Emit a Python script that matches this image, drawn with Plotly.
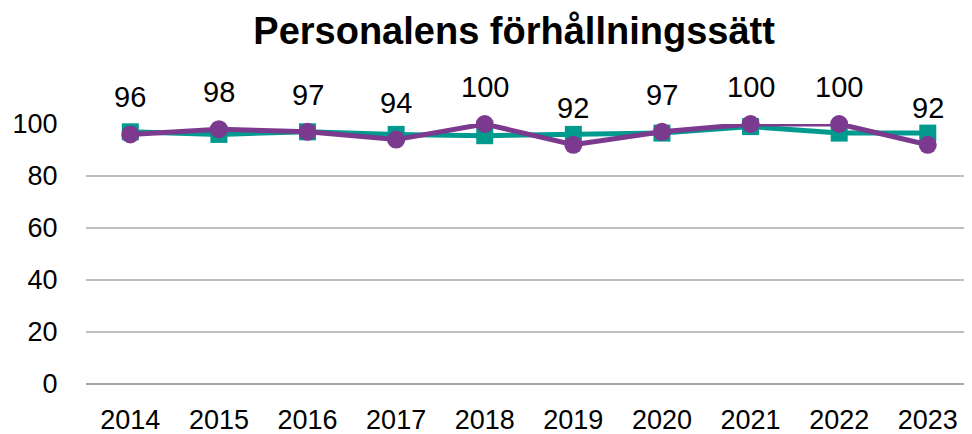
import plotly.graph_objects as go

years = [2014, 2015, 2016, 2017, 2018, 2019, 2020, 2021, 2022, 2023]
year_labels = ["2014", "2015", "2016", "2017", "2018", "2019", "2020", "2021", "2022", "2023"]
teal_values = [97, 96, 97, 96, 95.5, 96, 96.5, 99, 96.5, 96.5]
purple_values = [96, 98, 97, 94, 100, 92, 97, 100, 100, 92]
purple_labels = ["96", "98", "97", "94", "100", "92", "97", "100", "100", "92"]
y_ticks = [0, 20, 40, 60, 80, 100]

TEAL = "#009A8E"
PURPLE = "#7B3A8E"
FONT = "Liberation Sans, Arial, sans-serif"

fig = go.Figure()
fig.add_trace(go.Scatter(
    x=years, y=teal_values, mode="lines+markers",
    line=dict(color=TEAL, width=5),
    marker=dict(symbol="square", size=17, color=TEAL),
    cliponaxis=False, showlegend=False,
))
fig.add_trace(go.Scatter(
    x=years, y=purple_values, mode="lines+markers",
    line=dict(color=PURPLE, width=5),
    marker=dict(symbol="circle", size=18, color=PURPLE),
    cliponaxis=False, showlegend=False,
))
for yr, v, lab in zip(years, purple_values, purple_labels):
    fig.add_annotation(x=yr, y=v, xref="x", yref="y", text=lab, showarrow=False, yshift=37,
                       font=dict(family=FONT, size=29, color="#000000"))

# page body has an 8px margin; figure sized to fill the 972x434 window
fig.update_layout(
    width=964, height=426,
    margin=dict(l=78, r=7, t=116, b=50, autoexpand=False),
    paper_bgcolor="white", plot_bgcolor="white",
    title=dict(text="<b>Personalens förhållningssätt</b>", x=0.525, xanchor="center",
               y=0.947, yanchor="middle",
               font=dict(family=FONT, size=38, color="#000000")),
    font=dict(family=FONT, color="#000000"),
)
fig.update_xaxes(range=[2013.5, 2023.42], tickmode="array", tickvals=years, ticktext=year_labels,
                 showgrid=False, showline=False, zeroline=False, automargin=False,
                 ticks="outside", ticklen=12, tickcolor="rgba(0,0,0,0)",
                 tickfont=dict(size=27, family=FONT, color="#000000"))
fig.update_yaxes(range=[0, 100], tickmode="array", tickvals=y_ticks, showgrid=True,
                 gridcolor="#BFBFBF", gridwidth=1.5, automargin=False,
                 zeroline=True, zerolinecolor="#A6A6A6", zerolinewidth=2,
                 showline=False, ticks="outside", ticklen=22, tickcolor="rgba(0,0,0,0)",
                 tickfont=dict(size=27, family=FONT, color="#000000"))

fig.write_html("out.html")
